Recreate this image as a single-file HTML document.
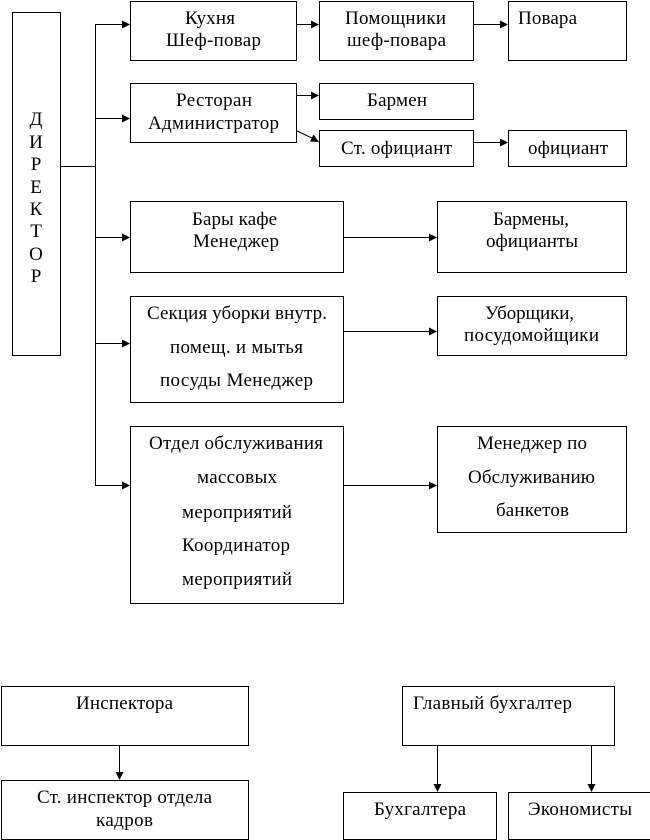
<!DOCTYPE html>
<html lang="ru"><head><meta charset="utf-8"><title>Схема</title>
<style>html,body{margin:0;padding:0;background:#fff}svg{display:block}
text{font-family:"Liberation Serif",serif;font-size:19px;fill:#000}
text.c{text-anchor:middle}
rect{fill:#fff;stroke:#000;stroke-width:1}
line{stroke:#000;stroke-width:1}
polygon{fill:#000}</style></head>
<body>
<svg width="650" height="840" viewBox="0 0 650 840" xmlns="http://www.w3.org/2000/svg">
<!-- boxes -->
<rect x="12.5" y="12.5" width="48" height="343"/>
<rect x="130.5" y="1.5" width="166" height="59"/>
<rect x="319.5" y="1.5" width="154" height="59"/>
<rect x="508.5" y="1.5" width="118" height="59"/>
<rect x="130.5" y="83.5" width="166" height="59"/>
<rect x="319.5" y="83.5" width="154" height="36"/>
<rect x="319.5" y="130.5" width="154" height="36"/>
<rect x="508.5" y="130.5" width="118" height="36"/>
<rect x="130.5" y="201.5" width="213" height="71"/>
<rect x="437.5" y="201.5" width="189" height="71"/>
<rect x="130.5" y="296.5" width="213" height="106"/>
<rect x="437.5" y="296.5" width="189" height="59"/>
<rect x="130.5" y="426.5" width="213" height="177"/>
<rect x="437.5" y="426.5" width="189" height="106"/>
<rect x="1.5" y="686.5" width="247" height="59"/>
<rect x="1.5" y="780.5" width="247" height="59"/>
<rect x="402.5" y="686.5" width="212" height="59"/>
<rect x="343.5" y="792.5" width="153" height="47"/>
<rect x="508.5" y="792.5" width="142" height="47"/>
<!-- connectors -->
<line x1="60" y1="166.5" x2="96" y2="166.5"/>
<line x1="95.5" y1="24" x2="95.5" y2="486"/>
<line x1="95" y1="24.5" x2="124" y2="24.5"/><polygon points="122,20.5 130,24.5 122,28.5"/>
<line x1="95" y1="118.5" x2="124" y2="118.5"/><polygon points="122,114.5 130,118.5 122,122.5"/>
<line x1="95" y1="237.5" x2="124" y2="237.5"/><polygon points="122,233.5 130,237.5 122,241.5"/>
<line x1="95" y1="343.5" x2="124" y2="343.5"/><polygon points="122,339.5 130,343.5 122,347.5"/>
<line x1="95" y1="485.5" x2="124" y2="485.5"/><polygon points="122,481.5 130,485.5 122,489.5"/>
<line x1="297" y1="24.5" x2="313" y2="24.5"/><polygon points="311,20.5 319,24.5 311,28.5"/>
<line x1="474" y1="24.5" x2="502" y2="24.5"/><polygon points="500,20.5 508,24.5 500,28.5"/>
<line x1="297" y1="95.5" x2="313" y2="95.5"/><polygon points="311,91.5 319,95.5 311,99.5"/>
<line x1="297" y1="131" x2="313" y2="138.5"/><polygon points="319,142 310,141.5 313.5,134.5"/>
<line x1="474" y1="142.5" x2="502" y2="142.5"/><polygon points="500,138.5 508,142.5 500,146.5"/>
<line x1="344" y1="237.5" x2="431" y2="237.5"/><polygon points="429,233.5 437,237.5 429,241.5"/>
<line x1="344" y1="331.5" x2="431" y2="331.5"/><polygon points="429,327.5 437,331.5 429,335.5"/>
<line x1="344" y1="485.5" x2="431" y2="485.5"/><polygon points="429,481.5 437,485.5 429,489.5"/>
<line x1="119.5" y1="746" x2="119.5" y2="774"/><polygon points="115.5,772 123.5,772 119.5,780"/>
<line x1="437.5" y1="746" x2="437.5" y2="786"/><polygon points="433.5,784 441.5,784 437.5,792"/>
<line x1="591.5" y1="746" x2="591.5" y2="786"/><polygon points="587.5,784 595.5,784 591.5,792"/>
<!-- director -->
<text class="c" x="36" y="125">Д</text>
<text class="c" x="36" y="148">И</text>
<text class="c" x="36" y="170">Р</text>
<text class="c" x="36" y="193">Е</text>
<text class="c" x="36" y="215">К</text>
<text class="c" x="36" y="237">Т</text>
<text class="c" x="36" y="260">О</text>
<text class="c" x="36" y="282">Р</text>
<!-- labels -->
<text x="185" y="24" textLength="50" lengthAdjust="spacing">Кухня</text>
<text x="166" y="46" textLength="95" lengthAdjust="spacing">Шеф-повар</text>
<text x="345" y="24" textLength="101" lengthAdjust="spacing">Помощники</text>
<text x="347" y="46" textLength="99" lengthAdjust="spacing">шеф-повара</text>
<text x="518" y="24" textLength="59" lengthAdjust="spacing">Повара</text>
<text x="176" y="106" textLength="76" lengthAdjust="spacing">Ресторан</text>
<text x="148" y="129" textLength="131" lengthAdjust="spacing">Администратор</text>
<text x="367" y="106" textLength="60" lengthAdjust="spacing">Бармен</text>
<text x="341" y="154" textLength="111" lengthAdjust="spacing">Ст. официант</text>
<text x="528" y="154" textLength="80" lengthAdjust="spacing">официант</text>
<text x="192" y="225" textLength="85" lengthAdjust="spacing">Бары кафе</text>
<text x="193" y="247" textLength="86" lengthAdjust="spacing">Менеджер</text>
<text x="493" y="225" textLength="76" lengthAdjust="spacing">Бармены,</text>
<text x="486" y="247" textLength="92" lengthAdjust="spacing">официанты</text>
<text x="147" y="319" textLength="180" lengthAdjust="spacing">Секция уборки внутр.</text>
<text x="170" y="353" textLength="133" lengthAdjust="spacing">помещ. и мытья</text>
<text x="160" y="386" textLength="153" lengthAdjust="spacing">посуды Менеджер</text>
<text x="485" y="319" textLength="89" lengthAdjust="spacing">Уборщики,</text>
<text x="464" y="341" textLength="135" lengthAdjust="spacing">посудомойщики</text>
<text x="149" y="449" textLength="174" lengthAdjust="spacing">Отдел обслуживания</text>
<text x="197" y="483" textLength="80" lengthAdjust="spacing">массовых</text>
<text x="182" y="518" textLength="110" lengthAdjust="spacing">мероприятий</text>
<text x="182" y="551" textLength="108" lengthAdjust="spacing">Координатор</text>
<text x="182" y="585" textLength="110" lengthAdjust="spacing">мероприятий</text>
<text x="477" y="449" textLength="110" lengthAdjust="spacing">Менеджер по</text>
<text x="468" y="483" textLength="127" lengthAdjust="spacing">Обслуживанию</text>
<text x="496" y="516" textLength="73" lengthAdjust="spacing">банкетов</text>
<text x="76" y="709" textLength="97" lengthAdjust="spacing">Инспектора</text>
<text x="37" y="803" textLength="175" lengthAdjust="spacing">Ст. инспектор отдела</text>
<text x="96" y="826" textLength="57" lengthAdjust="spacing">кадров</text>
<text x="413" y="709" textLength="159" lengthAdjust="spacing">Главный бухгалтер</text>
<text x="374" y="815" textLength="92" lengthAdjust="spacing">Бухгалтера</text>
<text x="528" y="815" textLength="104" lengthAdjust="spacing">Экономисты</text>
</svg>
</body></html>
